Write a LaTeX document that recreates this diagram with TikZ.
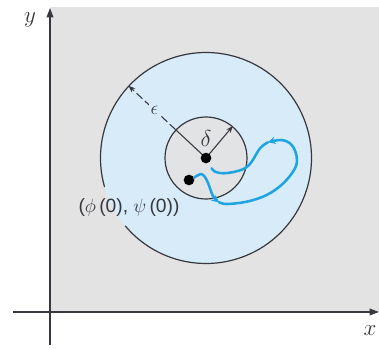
\documentclass[tikz,border=0pt]{standalone}
\usepackage{fontspec}
\setsansfont{Liberation Sans}
\usetikzlibrary{positioning,arrows.meta}
\definecolor{bggray}{RGB}{227,227,227}
\definecolor{diskblue}{RGB}{215,236,248}
\definecolor{holegray}{RGB}{226,227,229}
\definecolor{trajblue}{RGB}{30,165,225}
\definecolor{inkgray}{RGB}{55,55,62}

\begin{document}
\begin{tikzpicture}[
	x=0.75pt,y=-0.75pt,
	axis/.style={-{Triangle[length=7pt,width=5pt]},line width=1.1pt,inkgray},
	rim/.style={line width=0.9pt,inkgray},
	dot/.style={circle,fill=black,inner sep=0pt,minimum size=8pt},
	radial/.style={line width=0.8pt,inkgray,-{Stealth[length=5pt,width=4pt]}},
	traj/.style={line width=1.9pt,trajblue,line cap=round,line join=round},
	trajarrow/.style={traj,-{Stealth[length=5.5pt,width=5.5pt]}},
	lbl/.style={inkgray,inner sep=1pt}
	]
	
	\useasboundingbox (0,0) rectangle (379,349);
	\fill[bggray] (50,7) rectangle (379,312);
	
	% epsilon disk and delta disk
	\coordinate (c) at (206,158);
	\node[circle,fill=diskblue,minimum size=158.25pt,inner sep=0pt] (outer) at (c) {};
	\draw[rim] (c) ++(164:105.5) arc[start angle=164,end angle=500,radius=105.5];
	\node[circle,draw,rim,fill=holegray,minimum size=61.5pt,inner sep=0pt] (inner) at (c) {};
	
	% radii
	\draw[rim,line width=0.8pt] (c) -- (inner.137.4);
	\draw[radial,dash pattern=on 6pt off 2.5pt] (inner.137.4) -- (outer.137.4)
		node[pos=0.45,fill=diskblue,inner sep=1.5pt,text=inkgray,font=\Large] (eps) {$\epsilon$};
	\draw[radial] (c) -- (inner.50.4);
	
	\node[dot] (eq) at (c) {};
	\node[dot] (p0) at (189,180) {};
	\node[lbl,above=3pt of eq,font=\LARGE] (delta) {$\delta$};
	\node[lbl,font=\sffamily\Large] (init) at (129,208) {($\phi\,$(0), $\psi\,$(0))};
	
	% trajectory
	\coordinate (t1) at (219,202.2);
	\coordinate (t2) at (268,142.3);
	\draw[trajarrow] plot[smooth,tension=0.6] coordinates {(p0.25) (201.7,174) (206.7,180)
		(210,188.3) (213.3,196.7) (t1)};
	\draw[trajarrow] plot[smooth,tension=0.6] coordinates {(t1) (226.7,204) (246.7,201.7) (266.7,195)
		(283.3,183.3) (295,168.3) (296.7,156.7) (291.7,145) (281.7,140) (t2)};
	\draw[traj] plot[smooth,tension=0.6] coordinates {(t2) (260,148.3) (251.7,161.7) (245,168.3)
		(235,171.7) (223.3,173.3) (215,171.7) (211.7,168.3)};
	
	% axes
	\coordinate (xs) at (13,312);
	\coordinate (xe) at (379,312);
	\coordinate (ys) at (50,345);
	\coordinate (ye) at (50,8);
	\draw[axis] (xs) -- (xe);
	\draw[axis] (ys) -- (ye);
	\node[lbl,font=\LARGE] (ylab) at (30,20) {$y$};
	\node[lbl,font=\LARGE] (xlab) at (370,331) {$x$};
	
\end{tikzpicture}
\end{document}
